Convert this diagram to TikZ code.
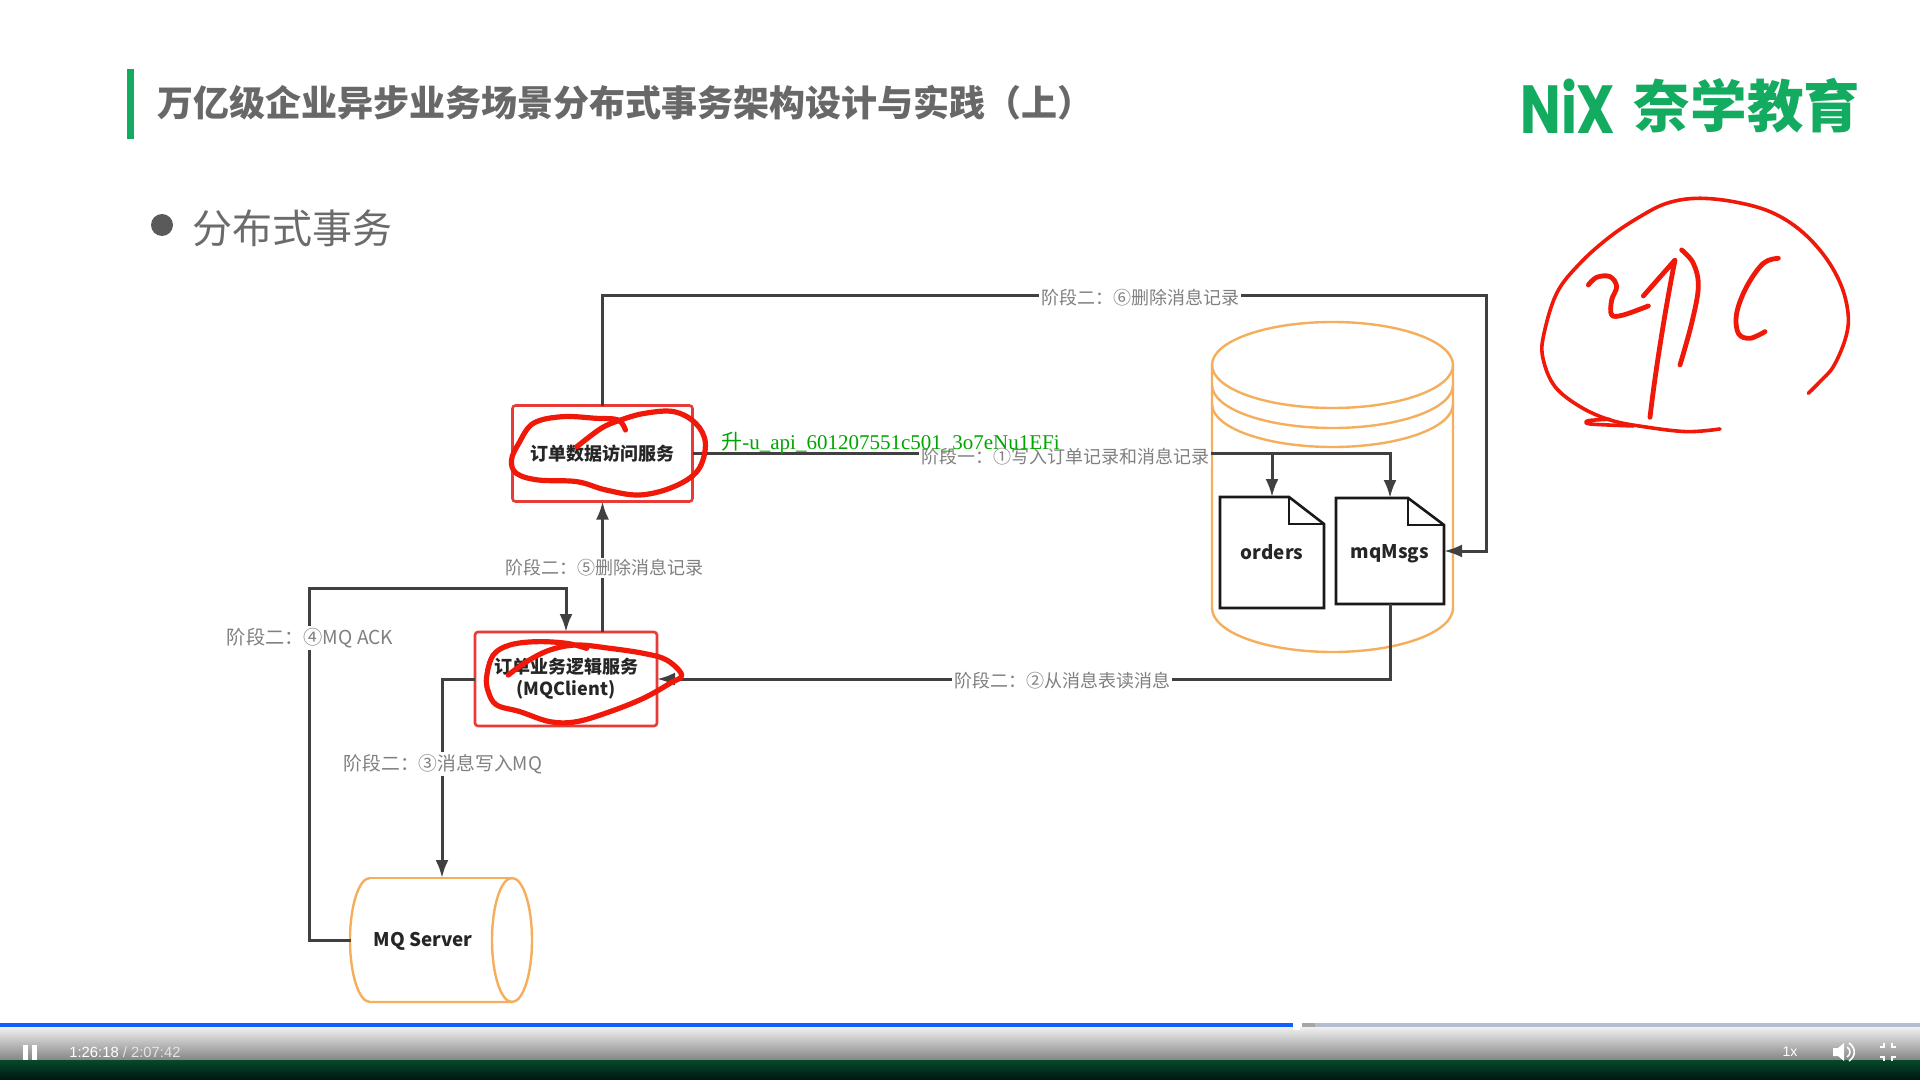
\documentclass[tikz,border=0pt]{standalone}
\usepackage{fontspec}
\setmainfont{Noto Sans CJK SC}
\newfontfamily\logofont{Poppins}
\newfontfamily\capfont{Liberation Serif}
\newfontfamily\barfont{Liberation Sans}
\usetikzlibrary{arrows.meta}
\definecolor{inkgray}{HTML}{404040}
\definecolor{labelgray}{HTML}{808080}
\definecolor{titlegray}{HTML}{5A5A5A}
\definecolor{headgray}{HTML}{686868}
\definecolor{nxgreen}{HTML}{12AB60}
\definecolor{boxred}{HTML}{E83A36}
\definecolor{penred}{HTML}{F01808}
\definecolor{dborange}{HTML}{F5AE5C}
\definecolor{barblue}{HTML}{1060FF}
\definecolor{bartrack}{HTML}{B4BDCE}
\definecolor{barhigh}{HTML}{F0F0F0}
\definecolor{barlow}{HTML}{858585}
\definecolor{bargreen}{HTML}{064A2A}
\definecolor{bardark}{HTML}{001510}
\tikzset{
  conn/.style={draw=inkgray,line width=1.5pt},
  arr/.style={conn,-{Latex[length=9pt,width=6.5pt]}},
  svcbox/.style={draw=boxred,line width=1.3pt,rounded corners=1.5pt,minimum width=90pt,align=center,font=\fontsize{9}{11}\selectfont\bfseries,text=black!85,inner sep=0pt,outer sep=0pt},
  lbl/.style={fill=white,font=\fontsize{9}{11}\selectfont,text=labelgray,inner sep=1pt},
  docbox/.style={font=\fontsize{9.4}{12}\selectfont\bfseries,text=black!85,inner sep=0pt,outer sep=0pt,text height=7pt,text depth=0.5pt},
  docline/.style={draw=black!90,line width=1.3pt,line join=miter},
  dbline/.style={draw=dborange,line width=1.2pt},
  pen/.style={draw=penred,line width=2.6pt,line cap=round,line join=round},
  midpen/.style={draw=penred,line width=2.4pt,line cap=round,line join=round},
  thinpen/.style={draw=penred,line width=1.8pt,line cap=round,line join=round},
}
\begin{document}
\begin{tikzpicture}[x=0.5pt,y=-0.5pt]
\useasboundingbox (0,0) rectangle (1920,1080);
\fill[white] (0,0) rectangle (1920,1080);
\fill[nxgreen] (127,69) rectangle (134,139);
\node[font=\fontsize{18}{20}\selectfont\bfseries,text=headgray,inner sep=0pt,anchor=west] (title) at (157,103) {万亿级企业异步业务场景分布式事务架构设计与实践（上）};
\node[circle,fill=titlegray,minimum size=11pt,inner sep=0pt] (bullet) at (162,225) {};
\node[font=\fontsize{20}{24}\selectfont,text=titlegray!90,inner sep=0pt,anchor=west] (subtitle) at (192,228) {分布式事务};
\node[font=\logofont\bfseries\fontsize{27}{30}\selectfont,text=nxgreen,inner sep=0pt] (logoa) at (1568,106) {\scalebox{1}[1.26]{NiX}};
\node[font=\fontsize{28.3}{30}\selectfont\bfseries,text=nxgreen,inner sep=0pt] (logob) at (1747,106) {奈学教育};
\draw[dbline] (1212,365) -- (1212,608) arc[start angle=180,end angle=360,x radius=60.25pt,y radius=22pt] -- (1453,365);
\draw[dbline] (1332.5,365) ellipse [x radius=60.25pt,y radius=21.5pt];
\draw[dbline] (1212,385) arc[start angle=180,end angle=360,x radius=60.25pt,y radius=21.5pt];
\draw[dbline] (1212,404) arc[start angle=180,end angle=360,x radius=60.25pt,y radius=21.5pt];
\node[svcbox,minimum height=48pt] (svcData) at (602.5,453.5) {订单数据访问服务};
\node[svcbox,minimum width=91pt,minimum height=47pt] (svcLogic) at (566,679) {订单业务逻辑服务\\(MQClient)};
\node[minimum width=91pt,minimum height=62pt,inner sep=0pt,outer sep=0pt] (mqSrv) at (442,940) {};
\draw[dbline] (370,878) arc[start angle=90,end angle=270,x radius=10pt,y radius=31pt] -- (512,1002);
\draw[dbline] (370,878) -- (512,878);
\draw[dbline] (512,940) ellipse [x radius=10pt,y radius=31pt];
\node[docbox] (mqText) at (423,940) {MQ Server};
\node[docbox,minimum width=52pt,minimum height=55.5pt] (docOrders) at (1272,552.5) {orders};
\node[docbox,minimum width=54pt,minimum height=53pt,text depth=0pt] (docMsgs) at (1390,551) {mqMsgs};
\draw[docline] (docOrders.north west) -- ++(69,0) -- ++(35,27) -- (docOrders.south east) -- (docOrders.south west) -- cycle;
\draw[docline] (docOrders.north west) ++(69,0) -- ++(0,27) -- ++(35,0);
\draw[docline] (docMsgs.north west) -- ++(72,0) -- ++(36,27) -- (docMsgs.south east) -- (docMsgs.south west) -- cycle;
\draw[docline] (docMsgs.north west) ++(72,0) -- ++(0,27) -- ++(36,0);
\coordinate (cTop) at (1486,296);
\coordinate (cAck) at (309,588);
\draw[arr] (svcData.north) |- (cTop) |- (docMsgs.east);
\draw[arr] (svcData.east) -| (docOrders.north);
\draw[arr] (svcData.east) -| (docMsgs.north);
\draw[arr] (docMsgs.south) |- (svcLogic.east);
\draw[arr] (svcLogic.west) -| (mqSrv.north);
\draw[arr] (mqSrv.west) -| (cAck) -| (svcLogic.north);
\draw[arr] (svcData.south |- svcLogic.north) -- (svcData.south);
\node[lbl] (lb1) at (1065,456.5) {阶段一：①写入订单记录和消息记录};
\node[lbl] (lb2) at (1062,681) {阶段二：②从消息表读消息};
\node[lbl,font=\fontsize{9.4}{11}\selectfont] (lb3) at (443,764) {阶段二：③消息写入MQ};
\node[lbl,font=\fontsize{9.6}{11}\selectfont] (lb4) at (310,638) {阶段二：④MQ ACK};
\node[lbl] (lb5) at (604,568) {阶段二：⑤删除消息记录};
\node[lbl] (lb6) at (1140,297.5) {阶段二：⑥删除消息记录};
\node[font=\capfont\fontsize{10.5}{12}\selectfont,text=green!65!black,inner sep=0pt,anchor=west] (mark) at (721,443) {{\rmfamily 升}-u\_api\_601207551c501\_3o7eNu1EFi};
\begin{scope}[shift={(480,380)},xscale=0.4847,yscale=0.3333]
\draw[pen] plot[smooth,tension=0.6] coordinates {(200,200) (250,145) (290,120) (340,100) (400,95) (445,130) (465,190) (450,270) (400,320) (330,345) (260,330) (200,305) (120,300) (75,280) (65,240) (80,190) (110,130) (170,110) (240,115) (285,120) (300,150)};
\end{scope}
\begin{scope}[shift={(210,580)},xscale=0.3333,yscale=0.3333]
\draw[pen] plot[smooth,tension=0.6] coordinates {(895,285) (950,245) (1020,210) (1100,195) (1200,205) (1300,220) (1370,240) (1415,285) (1380,310) (1300,355) (1200,395) (1100,425) (1020,425) (930,395) (860,375) (835,335) (830,290) (850,225) (900,195) (980,185) (1070,190) (1130,205)};
\end{scope}
\begin{scope}[shift={(1500,60)},xscale=0.3333,yscale=0.3333]
\draw[thinpen] plot[smooth,tension=0.6] coordinates {(925,1000) (960,965) (1000,920) (1035,840) (1045,770) (1025,680) (975,590) (900,510) (810,455) (700,425) (590,415) (500,430) (420,470) (330,530) (240,610) (170,700) (130,830) (130,900) (165,980) (240,1040) (330,1080) (430,1100) (560,1115) (660,1107)};
\draw[thinpen] plot[smooth] coordinates {(330,1078) (265,1082) (270,1092) (400,1098)};
\draw[midpen] plot[smooth,tension=0.6] coordinates {(265,675) (290,652) (330,650) (350,680) (335,720) (335,765) (370,765) (445,738)};
\draw[midpen] (430,708) -- (525,600) .. controls (505,700) and (470,900) .. (450,1072);
\draw[midpen] plot[smooth,tension=0.6] coordinates {(545,570) (580,610) (595,680) (575,790) (540,915)};
\draw[midpen] plot[smooth,tension=0.6] coordinates {(835,595) (790,610) (740,680) (710,760) (715,820) (750,835) (795,815)};
\end{scope}
\fill[barblue] (0,1023) rectangle (1293,1027);
\fill[black!35] (1302,1023) rectangle (1315,1027);
\fill[bartrack] (1315,1023) rectangle (1920,1027);
\shade[top color=barhigh,bottom color=barlow] (0,1027) rectangle (1920,1060);
\shade[top color=bargreen,bottom color=bardark] (0,1060) rectangle (1920,1080);
\fill[white] (1293,1022) rectangle (1300,1030);
\fill[white] (23,1045) rectangle (28,1060);
\fill[white] (32,1045) rectangle (37,1060);
\node[font=\barfont\fontsize{7.4}{8}\selectfont,text=white,inner sep=0pt,anchor=west] (clock) at (69,1052) {1:26:18 {\color{white!90!black} / 2:07:42}};
\node[font=\barfont\fontsize{7}{8}\selectfont,text=white,inner sep=0pt] (rate) at (1790,1052) {1x};
\fill[white] (1833,1048) -- (1838,1048) -- (1844,1043) -- (1844,1061) -- (1838,1056) -- (1833,1056) -- cycle;
\draw[white,line width=0.8pt] (1847,1047) .. controls (1851,1050) and (1851,1054) .. (1847,1057);
\draw[white,line width=0.8pt] (1849,1043) .. controls (1856,1048) and (1856,1056) .. (1849,1061);
\draw[white,line width=0.9pt] (1880,1047) -- (1884,1047) -- (1884,1043) (1892,1043) -- (1892,1047) -- (1896,1047) (1880,1057) -- (1884,1057) -- (1884,1061) (1892,1061) -- (1892,1057) -- (1896,1057);
\end{tikzpicture}
\end{document}
